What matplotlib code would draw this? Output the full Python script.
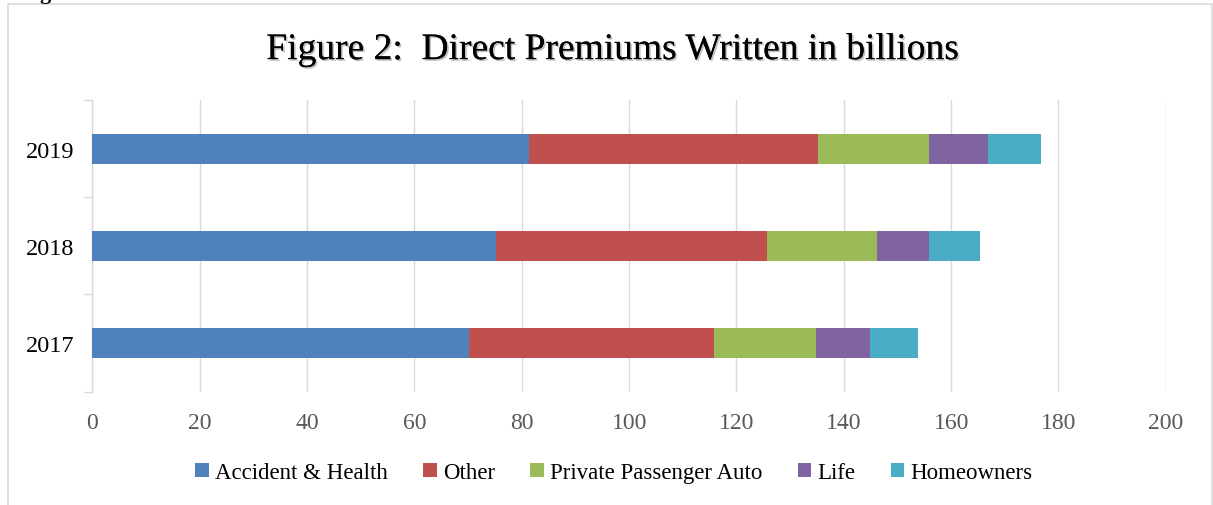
#Stacked horizontal bar chart of direct premiums written.

import matplotlib.pyplot as plt
import matplotlib.patheffects as pe
from matplotlib.patches import Rectangle, Patch
import numpy as np

YEARS = ["2017", "2018", "2019"]
SERIES_NAMES = ["Accident & Health", "Other", "Private Passenger Auto", "Life", "Homeowners"]
COLORS = ["#4F81BD", "#C0504D", "#9BBB59", "#8064A2", "#4BACC6"]

# values in billions (2017, 2018, 2019)
accident_health = [70.1, 75.2, 81.3]
other = [45.7, 50.4, 53.9]
private_auto = [19.1, 20.6, 20.7]
life = [9.9, 9.6, 10.9]
homeowners = [9.1, 9.5, 10.0]

series = [accident_health, other, private_auto, life, homeowners]

plt.rcParams['font.family'] = ['Liberation Serif', 'DejaVu Serif']

fig = plt.figure(figsize=(12.13, 5.06), dpi=100)
ax = fig.add_axes([0.0762, 0.2243, 0.8849, 0.5761])

# outer chart frame
fig.patches.append(Rectangle((8 / 1213, -0.05), 1204 / 1213, 1.05 - 5 / 506,
                             transform=fig.transFigure, fill=False,
                             edgecolor='#D9D9D9', linewidth=1.2))

y = np.arange(len(YEARS))
left = np.zeros(len(YEARS))
for name, values, color in zip(SERIES_NAMES, series, COLORS):
    ax.barh(y, values, height=0.31, left=left, color=color, label=name, zorder=3)
    left += np.array(values)

ax.set_xlim(0, 200)
ax.set_ylim(-0.5, 2.5)
ax.set_xticks(np.arange(0, 201, 20))
ax.set_yticks(y)
ax.set_yticklabels(YEARS)
ax.set_yticks([-0.5, 0.5, 1.5, 2.5], minor=True)

ax.grid(axis='x', color='#D9D9D9', linewidth=1.0, zorder=0)
for side in ['top', 'right', 'bottom']:
    ax.spines[side].set_visible(False)
ax.spines['left'].set_color('#D9D9D9')
ax.spines['left'].set_linewidth(1.0)

ax.tick_params(axis='x', length=0, pad=15, labelsize=17, labelcolor='#595959')
ax.tick_params(axis='y', which='major', length=0, pad=13, labelsize=17.5, labelcolor='black')
ax.tick_params(axis='y', which='minor', length=6, color='#D9D9D9', width=1.0)

fig.text(0.505, 0.9, "Figure 2:  Direct Premiums Written in billions",
         ha='center', va='center', fontsize=27,
         path_effects=[pe.withSimplePatchShadow(offset=(1.2, -1.2), alpha=0.25), pe.Normal()])

# cut-off caption fragment at the very top
fig.text(0.0325, 1.002, "g", ha='left', va='baseline', fontsize=16, fontweight='bold')

handles = [Patch(facecolor=c, label=n) for n, c in zip(SERIES_NAMES, COLORS)]
fig.legend(handles=handles, loc='center', bbox_to_anchor=(0.506, 0.064), ncol=5,
           frameon=False, fontsize=16.5, handlelength=0.6, handleheight=0.6,
           handletextpad=0.25, columnspacing=1.55)

fig.savefig("out.png", dpi=100)
